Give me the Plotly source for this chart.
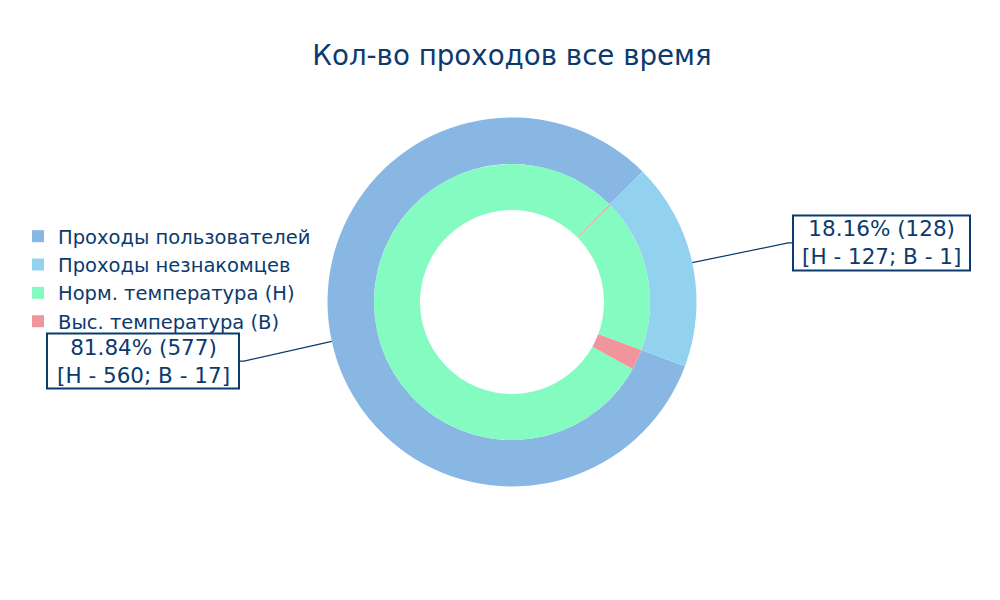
import math
import plotly.graph_objects as go

# ---- data ----
groups = ["Проходы пользователей", "Проходы незнакомцев"]
temp_labels = ["Норм. температура (Н)", "Выс. температура (В)"]
normal_temp = [560, 127]
high_temp = [17, 1]
title_text = "Кол-во проходов все время"

group_colors = ["#88b7e3", "#93d2ee"]
temp_colors = ["#84fbc0", "#f1959d"]
text_color = "#0c3a6e"
clear = "rgba(0,0,0,0)"

totals = [n + h for n, h in zip(normal_temp, high_temp)]
grand = sum(totals)

W, H = 1000, 600
cx, cy = 512, 302          # pie centre (px)
R_out, R_mid, R_in = 184.5, 138, 92
start_angle = 45           # first slice begins here (deg clockwise from 12 o'clock), going counter-clockwise


def dom(r):
    return dict(x=[(cx - r) / W, (cx + r) / W], y=[1 - (cy + r) / H, 1 - (cy - r) / H])


def pie(labels, values, colors, r, hole):
    # plotly's counter-clockwise pies put the first slice clockwise of `rotation`
    rot = start_angle - values[0] / sum(values) * 360
    return go.Pie(labels=labels, values=values, hole=hole, sort=False,
                  direction="counterclockwise", rotation=rot,
                  textinfo="none", hoverinfo="skip",
                  marker=dict(colors=colors, line=dict(width=0)), domain=dom(r))


fig = go.Figure()
# outer ring: groups
fig.add_trace(pie(groups, totals, group_colors, R_out, R_mid / R_out))
# inner ring: temperature split for the first group (second group transparent)
fig.add_trace(pie(temp_labels + [groups[1]],
                  [normal_temp[0], high_temp[0], totals[1]],
                  temp_colors + [clear], R_mid, R_in / R_mid))
# inner ring: temperature split for the second group (first group transparent)
fig.add_trace(pie([groups[0]] + temp_labels,
                  [totals[0], normal_temp[1], high_temp[1]],
                  [clear] + temp_colors, R_mid, R_in / R_mid))

# callout boxes
half_widths = [96, 88.5]
half_height = 27.5
font_box = dict(family="DejaVu Sans", size=21.5, color=text_color)
annotations = []
shapes = []
cum = 0
for i, tot in enumerate(totals):
    mid = math.radians(start_angle - (cum + tot / 2) / grand * 360)
    cum += tot
    s, c = math.sin(mid), math.cos(mid)
    px, py = cx + R_out * s, cy - R_out * c
    sign = 1 if s >= 0 else -1
    tx, ty = cx + 2 * R_out * sign + (0.5 if sign > 0 else 0), cy - 1.5 * R_out * c
    edge = tx - sign * half_widths[i]
    pct = tot / grand * 100
    shapes.append(dict(
        type="rect", xref="paper", yref="paper",
        x0=(tx - half_widths[i]) / W, x1=(tx + half_widths[i]) / W,
        y0=1 - (ty + half_height) / H, y1=1 - (ty - half_height) / H,
        line=dict(color=text_color, width=2), fillcolor="white", layer="above"))
    shapes.append(dict(
        type="path", xref="paper", yref="paper",
        path=(f"M {px / W},{1 - py / H} L {(edge - sign * 5) / W},{1 - ty / H} "
              f"L {edge / W},{1 - ty / H}"),
        line=dict(color=text_color, width=1.2)))
    annotations.append(dict(
        x=tx / W, y=1 - ty / H, xref="paper", yref="paper",
        xanchor="center", yanchor="middle", showarrow=False,
        text=f"{pct:.2f}% ({tot})<br>[Н - {normal_temp[i]}; В - {high_temp[i]}]",
        font=font_box))

fig.update_layout(
    width=W, height=H,
    margin=dict(l=0, r=0, t=0, b=0),
    paper_bgcolor="white", plot_bgcolor="white",
    font=dict(family="DejaVu Sans", color=text_color),
    title=dict(text=title_text, x=0.512, xanchor="center", y=1 - 55 / H, yanchor="middle",
               font=dict(family="DejaVu Sans", size=27.7, color=text_color)),
    legend=dict(x=0.018, xanchor="left", y=1 - 279 / H, yanchor="middle",
                font=dict(family="DejaVu Sans", size=19.5, color=text_color),
                bgcolor="rgba(0,0,0,0)"),
    annotations=annotations,
    shapes=shapes,
)

fig.write_html("out.html", config={"displayModeBar": False},
               post_script="document.body.style.margin='0';")
